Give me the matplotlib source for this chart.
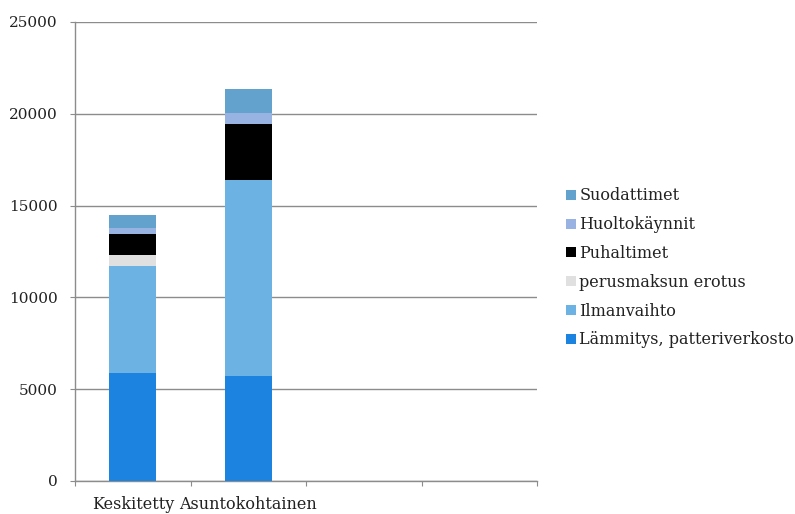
import matplotlib
matplotlib.use("Agg")
import matplotlib.pyplot as plt
from matplotlib.patches import Patch
import numpy as np

categories = ["Keskitetty", "Asuntokohtainen", "", ""]
series_names = [
    "Lämmitys, patteriverkosto",
    "Ilmanvaihto",
    "perusmaksun erotus",
    "Puhaltimet",
    "Huoltokäynnit",
    "Suodattimet",
]
lammitys = [5870, 5720, 0, 0]
ilmanvaihto = [5860, 10675, 0, 0]
perusmaksu = [580, 0, 0, 0]
puhaltimet = [1140, 3050, 0, 0]
huolto = [310, 615, 0, 0]
suodattimet = [720, 1290, 0, 0]
y_ticks = [0, 5000, 10000, 15000, 20000, 25000]

colors = ["#1C84E0", "#6CB2E2", "#E0E0E0", "#000000", "#98B2E2", "#64A2CE"]
values = [lammitys, ilmanvaihto, perusmaksu, puhaltimet, huolto, suodattimet]

plt.rcParams["font.family"] = ["DejaVu Serif"]
FS = 11
FS_CAT = 11.5
FS_LEG = 11.5
TXT = "#222222"

W, H = 795, 514
fig = plt.figure(figsize=(W / 100, H / 100), dpi=100)
ax = fig.add_axes([75 / W, (H - 481) / H, 462 / W, 459 / H])

x = np.arange(len(categories))
bottom = np.zeros(len(categories))
for name, vals, c in zip(series_names, values, colors):
    v = np.array(vals, dtype=float)
    ax.bar(x, v, width=0.41, bottom=bottom, color=c, label=name, zorder=3)
    bottom += v

ax.set_xlim(-0.5, len(categories) - 0.5)
ax.set_ylim(0, 25000)
ax.set_yticks(y_ticks)
ax.set_yticklabels([str(t) for t in y_ticks], fontsize=FS, color=TXT)

grid_c = "#8C8C8C"
ax.yaxis.grid(True, color=grid_c, linewidth=1.0, zorder=0)
ax.set_axisbelow(True)
for s in ["top", "right"]:
    ax.spines[s].set_visible(False)
for s in ["left", "bottom"]:
    ax.spines[s].set_color(grid_c)
    ax.spines[s].set_linewidth(1.0)

ax.tick_params(axis="y", length=3.6, color=grid_c, pad=9)
ax.set_xticks(np.arange(-0.5, len(categories), 1.0))
ax.set_xticklabels([])
ax.tick_params(axis="x", which="major", length=3.6, color=grid_c)
ax.set_xticks(x[:2], minor=True)
ax.set_xticklabels(categories[:2], minor=True, fontsize=FS_CAT, color=TXT)
ax.tick_params(axis="x", which="minor", length=0, pad=11)

handles = [Patch(facecolor=c, edgecolor="none") for c in colors]
leg = fig.legend(
    handles[::-1], series_names[::-1],
    loc="upper left", bbox_to_anchor=(560 / W, 1 - 181 / H),
    frameon=False, fontsize=FS_LEG, handlelength=0.6, handleheight=0.6,
    handletextpad=0.2, labelspacing=0.74, borderaxespad=0,
)
for t in leg.get_texts():
    t.set_color(TXT)

fig.savefig("out.png", dpi=100)
